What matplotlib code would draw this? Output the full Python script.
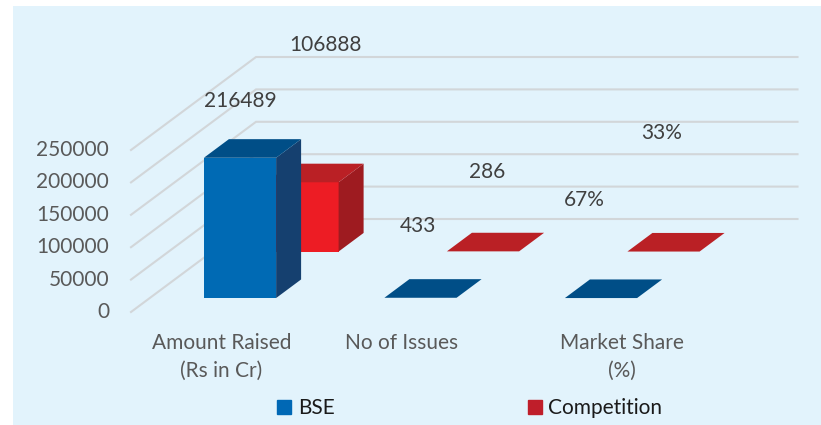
import numpy as np
import matplotlib.pyplot as plt
from matplotlib.patches import Polygon, Rectangle
from matplotlib.lines import Line2D

## Data ##
categories = ["Amount Raised\n(Rs in Cr)", "No of Issues", "Market Share\n(%)"]
series_names = ["BSE", "Competition"]
bse = [216489, 433, 0.67]
competition = [106888, 286, 0.33]
y_ticks = [0, 50000, 100000, 150000, 200000, 250000]

## Layout (pixels, oblique 3D look) ##
W, H = 821, 425
X0, Y0 = 131, 312                    # front-left corner of the floor
SLOT = 180.5                         # width of one category
PX_PER_UNIT = 32.4 / 50000           # vertical scale
DEPTH = (125.0, -93.0)               # shift from front to back wall
BAR_W = 0.4                          # bar width as part of a slot
BAR_D = 0.2                          # bar depth as part of the floor

bg = "#E2F3FC"
grid_c = "#D2D6D9"
faces = {
    "BSE": ("#006AB4", "#15406F", "#004E87"),
    "Competition": ("#ED1C24", "#9E1B20", "#BA2025"),
}
legend_c = {"BSE": "#0068B5", "Competition": "#BF1E2A"}

cat_label_x = [221.5, 401.5, 621.5]
cat_line_y = [349, 377]              # baselines of the two label lines
# data label centres: (x, y) for each series/category
lab_pos = {
    "BSE": [(240, 101), (418, 226), (584, 200)],
    "Competition": [(325, 45), (487, 172), (662, 133)],
}

plt.rcParams['font.family'] = ['Lato', 'DejaVu Sans']
FS = 15


def proj(c, v, d):
    # category position, value, depth (0 front .. 1 back) -> pixel coords
    return (X0 + c * SLOT + d * DEPTH[0], Y0 - v * PX_PER_UNIT + d * DEPTH[1])


def fmt(v):
    return f"{v * 100:.0f}%" if v < 1 else f"{v:.0f}"


fig = plt.figure(figsize=(W / 100, H / 100), dpi=100)
ax = fig.add_axes([0, 0, 1, 1])
ax.set_xlim(0, W)
ax.set_ylim(H, 0)
ax.axis("off")

ax.add_patch(Rectangle((13, 6), W - 13, H - 6, facecolor=bg, edgecolor="none", zorder=0))

# gridlines: side wall diagonal + back wall
n_cat = len(categories)
for t in y_ticks:
    pts = [proj(0, t, 0), proj(0, t, 1), proj(n_cat, t, 1)]
    xs, ys = zip(*pts)
    ax.plot(xs, ys, color=grid_c, lw=1.5, zorder=1, solid_joinstyle="miter")
    x, y = proj(0, t, 0)
    ax.text(109, y, f"{t}", ha="right", va="center", fontsize=FS, color="#595959")

# bars, back row first
z = 2
for r in reversed(range(len(series_names))):
    name = series_names[r]
    vals = [bse, competition][r]
    front_c, side_c, top_c = faces[name]
    d0 = (r + 0.5) / len(series_names) - BAR_D / 2
    d1 = d0 + BAR_D
    for i, v in enumerate(vals):
        c0 = i + (1 - BAR_W) / 2
        c1 = c0 + BAR_W
        h = v * PX_PER_UNIT
        if h > 1:
            front = [proj(c0, 0, d0), proj(c1, 0, d0), proj(c1, v, d0), proj(c0, v, d0)]
            side = [proj(c1, 0, d0), proj(c1, 0, d1), proj(c1, v, d1), proj(c1, v, d0)]
            ax.add_patch(Polygon(front, closed=True, facecolor=front_c, edgecolor="none", zorder=z))
            ax.add_patch(Polygon(side, closed=True, facecolor=side_c, edgecolor="none", zorder=z))
        top = [proj(c0, v, d0), proj(c1, v, d0), proj(c1, v, d1), proj(c0, v, d1)]
        ax.add_patch(Polygon(top, closed=True, facecolor=top_c, edgecolor="none", zorder=z))
        z += 1
        lx, ly = lab_pos[name][i]
        ax.text(lx, ly, fmt(v), ha="center", va="center", fontsize=FS, color="#404040", zorder=20)

# category labels, one line at a time
for i, cat in enumerate(categories):
    for k, line in enumerate(cat.split("\n")):
        ax.text(cat_label_x[i], cat_line_y[k], line, ha="center", va="baseline",
                fontsize=FS, color="#595959")

# legend
handles = [Line2D([], [], marker="s", ls="none", markersize=9.4, color=legend_c[n]) for n in series_names]
ax.legend(handles, series_names, loc="center", bbox_to_anchor=(470 / W, 1 - 408 / H),
          ncol=2, frameon=False, fontsize=FS, handlelength=0.6, handletextpad=0.35,
          columnspacing=9.3, labelcolor="#1a1a1a", borderpad=0, borderaxespad=0)

fig.savefig("out.png", dpi=100, facecolor="white")
